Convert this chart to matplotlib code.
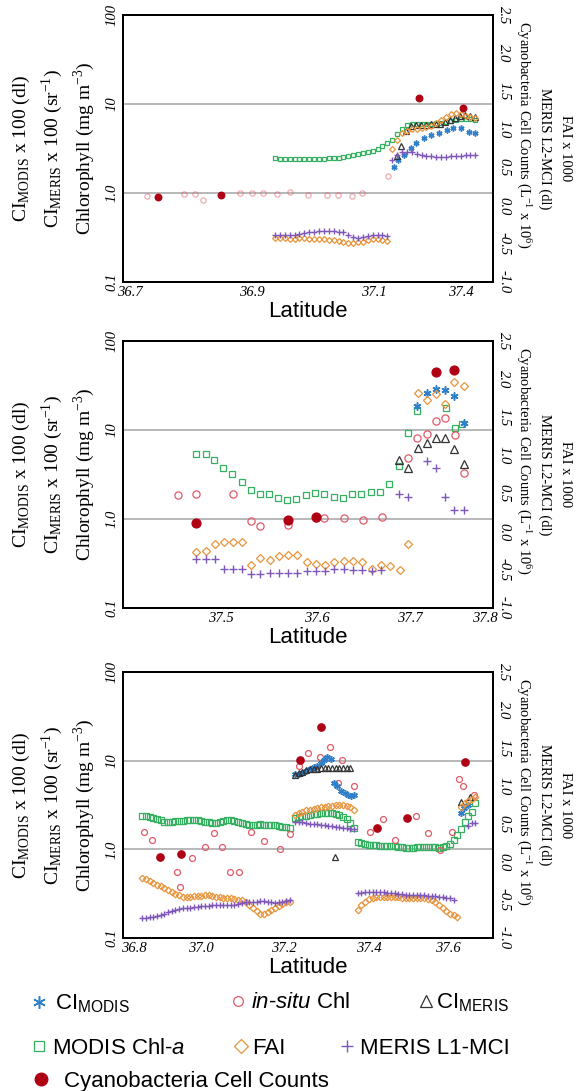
import numpy as np
import matplotlib
matplotlib.use('Agg')
import matplotlib.pyplot as plt
from matplotlib.lines import Line2D
from matplotlib.ticker import NullLocator

plt.rcParams['font.family'] = ['Liberation Sans', 'DejaVu Sans']
plt.rcParams['mathtext.fontset'] = 'custom'
plt.rcParams['mathtext.rm'] = 'Liberation Serif'
plt.rcParams['mathtext.sf'] = 'Liberation Sans'
plt.rcParams['mathtext.it'] = 'Liberation Sans:italic'

nan = np.nan

# ---------------- panel 1 ----------------
p1_lat = [36.938, 36.946, 36.954, 36.962, 36.970, 36.978, 36.986, 36.994, 37.002, 37.010,
          37.018, 37.026, 37.034, 37.042, 37.050, 37.058, 37.066, 37.074, 37.082, 37.090,
          37.098, 37.106, 37.114, 37.122, 37.130, 37.138, 37.146, 37.154, 37.162, 37.170,
          37.178, 37.186, 37.194, 37.202, 37.210, 37.218, 37.226, 37.234, 37.242, 37.250,
          37.258, 37.266]
p1_chla = [2.45, 2.42, 2.40, 2.40, 2.38, 2.38, 2.40, 2.40, 2.40, 2.42,
           2.42, 2.45, 2.47, 2.50, 2.55, 2.60, 2.65, 2.72, 2.80, 2.90,
           3.00, 3.15, 3.35, 3.60, 3.95, 4.60, 5.30, 5.80, 5.90, 5.90,
           5.95, 6.00, 6.00, 6.05, 6.10, 6.30, 6.50, 6.60, 6.70, 6.80,
           6.70, 6.60]
p1_fai = [-0.42, -0.42, -0.42, -0.43, -0.43, -0.42, -0.42, -0.43, -0.43, -0.44,
          -0.44, -0.45, -0.45, -0.46, -0.48, -0.49, -0.49, -0.48, -0.47, -0.45,
          -0.44, -0.44, -0.45, -0.46, 0.74, 0.86, 0.95, 0.98, 1.00, 1.01,
          1.02, 1.03, 1.05, 1.08, 1.12, 1.16, 1.20, 1.22, 1.20, 1.18,
          1.16, 1.15]
p1_mci = [-0.39, -0.39, -0.38, -0.38, -0.38, -0.37, -0.36, -0.35, -0.34, -0.33,
          -0.33, -0.33, -0.33, -0.34, -0.35, -0.38, -0.41, -0.42, -0.41, -0.40,
          -0.39, -0.38, -0.38, -0.40, 0.60, 0.66, 0.70, 0.71, 0.70, 0.68,
          0.66, 0.65, 0.65, 0.64, 0.64, 0.64, 0.65, 0.65, 0.65, 0.66,
          0.66, 0.66]
p1_insitu_lat = [36.728, 36.789, 36.807, 36.820, 36.881, 36.900, 36.919, 36.941, 36.963,
                 36.992, 37.023, 37.041, 37.064, 37.081, 37.123]
p1_insitu = [0.93, 0.97, 0.97, 0.84, 1.00, 1.00, 1.00, 0.98, 1.02, 0.95, 0.95, 0.95, 0.93, 1.00, 1.55]
p1_cyano_lat = [36.747, 36.850, 37.173, 37.246]
p1_cyano = [0.12, 0.14, 1.41, 1.28]
p1_cimodis_lat = [37.133, 37.140, 37.150, 37.161, 37.169, 37.182, 37.194, 37.207, 37.219,
                  37.230, 37.243, 37.255, 37.266]
p1_cimodis = [1.96, 2.35, 2.67, 3.20, 3.64, 4.15, 4.48, 4.72, 5.10, 5.37, 5.37, 4.85, 4.72]
p1_cimeris_lat = [37.137, 37.145, 37.153, 37.161, 37.169, 37.177, 37.185, 37.193, 37.201,
                  37.209, 37.217, 37.225, 37.233, 37.241, 37.249, 37.257, 37.265]
p1_cimeris = [2.6, 3.4, 5.0, 5.6, 5.8, 5.8, 5.8, 5.9, 5.9, 6.0, 6.2, 6.6, 7.0, 7.4, 7.5, 7.4, 7.2]

# ---------------- panel 2 ----------------
p2_chla_lat = [37.472, 37.483, 37.492, 37.502, 37.512, 37.523, 37.533, 37.543, 37.554, 37.564,
               37.574, 37.584, 37.595, 37.605, 37.615, 37.626, 37.636, 37.646, 37.656, 37.667,
               37.677, 37.687, 37.698, 37.708, 37.718, 37.751, 37.761, 37.769]
p2_chla = [5.33, 5.33, 4.56, 3.71, 3.18, 2.63, 2.10, 1.93, 1.89, 1.74,
           1.63, 1.66, 1.86, 1.98, 1.93, 1.77, 1.74, 1.89, 1.93, 2.03,
           2.03, 2.49, 3.94, 9.33, 16.3, 17.5, 10.5, 11.7]
p2_insitu_lat = [37.452, 37.472, 37.513, 37.533, 37.543, 37.575, 37.606, 37.615, 37.637,
                 37.658, 37.679, 37.708, 37.718, 37.730, 37.739, 37.749, 37.761, 37.771]
p2_insitu = [1.86, 1.89, 1.89, 0.95, 0.83, 0.86, 1.02, 1.02, 1.02, 0.97, 1.04, 4.88, 8.2, 9.1,
             12.6, 13.8, 8.9, 3.3]
p2_cyano_lat = [37.472, 37.575, 37.606, 37.740, 37.760]
p2_cyano = [0.11, 0.16, 0.19, 2.09, 2.12]
p2_fai_lat = [37.472, 37.483, 37.493, 37.503, 37.513, 37.524, 37.534, 37.544, 37.555, 37.565,
              37.575, 37.585, 37.596, 37.606, 37.616, 37.626, 37.637, 37.647, 37.657, 37.668,
              37.678, 37.688, 37.699, 37.708, 37.719, 37.730, 37.740, 37.750, 37.760, 37.771]
p2_fai = [-0.26, -0.25, -0.16, -0.13, -0.13, -0.14, -0.43, -0.35, -0.37, -0.32,
          -0.30, -0.31, -0.40, -0.42, -0.43, -0.40, -0.39, -0.38, -0.40, -0.49,
          -0.43, -0.45, -0.50, -0.16, 1.82, 1.73, 1.81, 1.68, 1.96, 1.91]
p2_mci_lat = [37.472, 37.483, 37.493, 37.503, 37.513, 37.524, 37.534, 37.544, 37.555, 37.565,
              37.575, 37.585, 37.596, 37.606, 37.616, 37.626, 37.637, 37.647, 37.657, 37.668,
              37.678, 37.698, 37.708, 37.730, 37.740, 37.750, 37.760, 37.771]
p2_mci = [-0.36, -0.36, -0.36, -0.49, -0.49, -0.49, -0.56, -0.56, -0.54, -0.54,
          -0.54, -0.54, -0.51, -0.51, -0.51, -0.49, -0.49, -0.50, -0.50, -0.51,
          -0.50, 0.49, 0.45, 0.93, 0.83, 0.46, 0.28, 0.28]
p2_cimodis_lat = [37.718, 37.730, 37.740, 37.750, 37.760, 37.771]
p2_cimodis = [18.6, 26.2, 28.6, 28.1, 24.1, 12.1]
p2_cimeris_lat = [37.698, 37.708, 37.719, 37.730, 37.740, 37.750, 37.760, 37.771]
p2_cimeris = [4.56, 3.77, 6.33, 7.2, 8.2, 8.2, 6.06, 4.12]

# ---------------- panel 3 ----------------
p3_lat = [36.854, 36.863, 36.872, 36.881, 36.890, 36.899, 36.908, 36.917, 36.926, 36.935,
          36.944, 36.953, 36.962, 36.971, 36.980, 36.989, 36.998, 37.007, 37.016, 37.025,
          37.034, 37.043, 37.052, 37.061, 37.070, 37.079, 37.088, 37.097, 37.106, 37.115,
          37.124, 37.133, 37.142, 37.151, 37.160, 37.169, 37.178, 37.187, 37.196, 37.205,
          37.214,
          37.227, 37.236, 37.245, 37.254, 37.263, 37.272, 37.281, 37.290, 37.299, 37.308,
          37.317, 37.326, 37.335, 37.344, 37.353, 37.362, 37.370,
          37.380, 37.389, 37.398, 37.407, 37.416, 37.425, 37.434, 37.443, 37.452, 37.461,
          37.470, 37.479, 37.488, 37.497, 37.506, 37.515, 37.524, 37.533, 37.542, 37.551,
          37.560, 37.569, 37.578, 37.587, 37.596, 37.605,
          37.614, 37.623, 37.632, 37.641, 37.650, 37.659, 37.666]
p3_chla = [2.38, 2.35, 2.30, 2.25, 2.20, 2.12, 2.05, 2.03, 2.05, 2.08,
           2.10, 2.10, 2.12, 2.14, 2.14, 2.12, 2.10, 2.06, 2.02, 1.98,
           2.00, 2.05, 2.10, 2.12, 2.14, 2.10, 2.02, 1.96, 1.92, 1.88,
           1.88, 1.90, 1.92, 1.90, 1.88, 1.88, 1.86, 1.83, 1.80, 1.77,
           1.74,
           2.25, 2.30, 2.35, 2.40, 2.44, 2.48, 2.52, 2.55, 2.57, 2.57,
           2.55, 2.50, 2.42, 2.32, 2.20, 1.98, 1.74,
           1.22, 1.18, 1.15, 1.13, 1.12, 1.12, 1.10, 1.10, 1.09, 1.08,
           1.08, 1.07, 1.05, 1.04, 1.03, 1.04, 1.05, 1.05, 1.06, 1.06,
           1.05, 1.05, 1.04, 1.06, 1.10, 1.16,
           1.28, 1.45, 1.70, 2.05, 2.40, 2.66, 3.30]
p3_fai = [-0.21, -0.23, -0.25, -0.28, -0.30, -0.32, -0.34, -0.37, -0.40, -0.42,
          -0.44, -0.46, -0.46, -0.46, -0.45, -0.45, -0.45, -0.44, -0.44, -0.45,
          -0.46, -0.46, -0.47, -0.48, -0.48, -0.49, -0.50, -0.50, -0.53, -0.57,
          -0.61, -0.65, -0.68, -0.68, -0.66, -0.63, -0.60, -0.58, -0.55, -0.53,
          -0.52,
          0.62, 0.64, 0.66, 0.68, 0.69, 0.70, 0.71, 0.72, 0.73, 0.74,
          0.74, 0.75, 0.75, 0.75, 0.74, 0.72, 0.68,
          -0.63, -0.57, -0.52, -0.49, -0.47, -0.46, -0.46, -0.46, -0.46, -0.46,
          -0.46, -0.46, -0.47, -0.47, -0.47, -0.48, -0.48, -0.48, -0.48, -0.49,
          -0.50, -0.53, -0.57, -0.60, -0.64, -0.68,
          -0.70, -0.72, 0.72, 0.77, 0.80, 0.83, 0.86]
p3_mci = [-0.74, -0.74, -0.73, -0.72, -0.71, -0.70, -0.68, -0.66, -0.64, -0.63,
          -0.62, -0.61, -0.60, -0.60, -0.59, -0.59, -0.58, -0.58, -0.58, -0.57,
          -0.57, -0.57, -0.57, -0.57, -0.57, -0.56, -0.55, -0.54, -0.53, -0.52,
          -0.52, -0.52, -0.51, -0.51, -0.52, -0.53, -0.54, -0.53, -0.52, -0.51,
          -0.50,
          0.53, 0.53, 0.52, 0.51, 0.50, 0.50, 0.50, 0.49, 0.49, 0.48,
          0.47, 0.46, 0.46, 0.45, 0.45, 0.44, 0.44,
          -0.41, -0.41, -0.40, -0.40, -0.40, -0.40, -0.40, -0.40, -0.41, -0.41,
          -0.41, -0.42, -0.42, -0.43, -0.43, -0.44, -0.44, -0.44, -0.44, -0.45,
          -0.45, -0.45, -0.46, -0.46, -0.47, -0.48,
          -0.50, nan, nan, nan, 0.48, 0.51, 0.51]
p3_insitu_lat = [36.858, 36.878, 36.939, 36.947, 36.976, 37.008, 37.029, 37.049, 37.069, 37.090,
                 37.120, 37.150, 37.191, 37.215, 37.236, 37.259, 37.288, 37.312, 37.341, 37.332,
                 37.371, 37.410, 37.441, 37.471, 37.522, 37.552, 37.580, 37.609, 37.627, 37.636,
                 37.663]
p3_insitu = [1.58, 1.27, 0.55, 0.38, 0.79, 1.07, 1.54, 1.07, 0.55, 0.55,
             1.58, 1.24, 1.00, 1.50, 8.6, 12.1, 11.0, 14.4, 10.2, 5.55,
             5.18, 1.56, 2.2, 1.27, 2.38, 1.54, 0.98, 1.58, 6.17, 5.18,
             4.1]
p3_cyano_lat = [36.898, 36.949, 37.239, 37.290, 37.428, 37.499, 37.642]
p3_cyano = [0.06, 0.11, 1.34, 1.78, 0.45, 0.58, 1.31]
p3_cimodis_lat = [37.227, 37.236, 37.245, 37.254, 37.263, 37.272, 37.281, 37.290, 37.298, 37.306,
                  37.314, 37.322, 37.330, 37.340, 37.348, 37.356, 37.364, 37.370, 37.631, 37.640,
                  37.649]
p3_cimodis = [7.0, 7.1, 7.3, 7.6, 8.0, 8.4, 8.8, 9.3, 10.2, 11.0,
              10.5, 5.6, 5.2, 4.6, 4.3, 4.1, 4.0, 4.1, 2.55, 2.9,
              3.16]
p3_cimeris_lat = [37.227, 37.236, 37.245, 37.254, 37.263, 37.272, 37.281, 37.290, 37.299, 37.308,
                  37.317, 37.324, 37.326, 37.335, 37.344, 37.353, 37.362, 37.631, 37.653]
p3_cimeris = [6.9, 7.2, 7.5, 7.8, 8.0, 8.1, 8.1, 8.2, 8.2, 8.2,
              8.2, 0.83, 8.2, 8.2, 8.3, 8.2, 8.2, 3.45, 3.9]

# axis limits and tick labels (tick spacing in the original is uneven)
p1_xlim = (36.689, 37.295)
p1_xticks = [36.7, 36.9, 37.1, 37.242]
p1_xlabels = ['36.7', '36.9', '37.1', '37.4']
p2_xlim = (37.391, 37.803)
p2_xticks = [37.5, 37.607, 37.71, 37.794]
p2_xlabels = ['37.5', '37.6', '37.7', '37.8']
p3_xlim = (36.807, 37.71)
p3_xticks = [36.834, 36.998, 37.2, 37.407, 37.6]
p3_xlabels = ['36.8', '37.0', '37.2', '37.4', '37.6']

left_ticks = [0.1, 1, 10, 100]
left_labels = ['0.1', '1.0', '10', '100']
right_ticks = [-1.0, -0.5, 0.0, 0.5, 1.0, 1.5, 2.0, 2.5]
right_labels = ['-1.0', '-0.5', '0.0', '0.5', '1.0', '1.5', '2.0', '2.5']

# marker styles
STY = {
    'cimodis': dict(ls='none', marker=(6, 2, 0), color='#2f80c8', mew=1.1),
    'insitu': dict(ls='none', marker='o', mfc='none', mec='#e05a68', mew=0.9),
    'cimeris': dict(ls='none', marker='^', mfc='none', mec='#333333', mew=0.9),
    'chla': dict(ls='none', marker='s', mfc='none', mec='#35b060', mew=0.9),
    'fai': dict(ls='none', marker='D', mfc='none', mec='#e8943c', mew=0.9),
    'mci': dict(ls='none', marker='+', color='#7e57b8', mew=1.0),
    'cyano': dict(ls='none', marker='o', color='#b00014', mec='#b00014'),
}
SIZE = {'cimodis': 5, 'insitu': 4.5, 'cimeris': 4.5, 'chla': 4, 'fai': 3.5, 'mci': 5, 'cyano': 5.5}

panels = [
    dict(rect=[123/579, 1-282/1091, 370/579, 267/1091], scale=0.85, insitu_alpha=0.5,
         xlim=p1_xlim, xticks=p1_xticks, xlabels=p1_xlabels,
         left=[('chla', p1_lat, p1_chla), ('insitu', p1_insitu_lat, p1_insitu),
               ('cimodis', p1_cimodis_lat, p1_cimodis), ('cimeris', p1_cimeris_lat, p1_cimeris)],
         right=[('fai', p1_lat, p1_fai), ('mci', p1_lat, p1_mci), ('cyano', p1_cyano_lat, p1_cyano)]),
    dict(rect=[123/579, 1-608/1091, 370/579, 267/1091], scale=1.15, insitu_alpha=1.0,
         xlim=p2_xlim, xticks=p2_xticks, xlabels=p2_xlabels,
         left=[('chla', p2_chla_lat, p2_chla), ('insitu', p2_insitu_lat, p2_insitu),
               ('cimodis', p2_cimodis_lat, p2_cimodis), ('cimeris', p2_cimeris_lat, p2_cimeris)],
         right=[('fai', p2_fai_lat, p2_fai), ('mci', p2_mci_lat, p2_mci), ('cyano', p2_cyano_lat, p2_cyano)]),
    dict(rect=[123/579, 1-938/1091, 370/579, 266/1091], scale=0.95, insitu_alpha=1.0,
         xlim=p3_xlim, xticks=p3_xticks, xlabels=p3_xlabels,
         left=[('chla', p3_lat, p3_chla), ('insitu', p3_insitu_lat, p3_insitu),
               ('cimodis', p3_cimodis_lat, p3_cimodis), ('cimeris', p3_cimeris_lat, p3_cimeris)],
         right=[('fai', p3_lat, p3_fai), ('mci', p3_lat, p3_mci), ('cyano', p3_cyano_lat, p3_cyano)]),
]

serif = ['Liberation Serif', 'DejaVu Serif']
tickfont = dict(family=serif, style='italic', fontsize=10.5)

fig = plt.figure(figsize=(5.79, 10.91), dpi=100)

for p in panels:
    ax = fig.add_axes(p['rect'])
    ax.set_yscale('log')
    ax.set_ylim(0.1, 100)
    ax.set_xlim(*p['xlim'])
    ax2 = ax.twinx()
    ax2.set_ylim(-1.0, 2.5)

    for key, x, y in p['left']:
        alpha = p['insitu_alpha'] if key == 'insitu' else 1.0
        ax.plot(x, y, ms=SIZE[key]*p['scale'], alpha=alpha, **STY[key])
    for key, x, y in p['right']:
        z = 5 if key == 'cyano' else 3
        ax2.plot(x, y, ms=SIZE[key]*p['scale'], zorder=z, **STY[key])

    ax.grid(axis='y', which='major', color='#b8b8b8', lw=1.4)
    ax.set_axisbelow(True)
    ax.yaxis.set_minor_locator(NullLocator())
    ax.set_yticks(left_ticks, left_labels, rotation=90, va='center', **tickfont)
    ax.set_xticks(p['xticks'], p['xlabels'], **tickfont)
    ax2.set_yticks(right_ticks, right_labels, rotation=270, va='center', **tickfont)
    ax.tick_params(length=0, pad=3)
    ax2.tick_params(length=0, pad=3)
    for a in (ax, ax2):
        for sp in a.spines.values():
            sp.set_linewidth(1.4)
    ax.set_xlabel('Latitude', fontsize=16, labelpad=1)

    ax.text(-0.275, 0.5, r'CI$_{\mathrm{MODIS}}$ x 100 (dl)', transform=ax.transAxes,
            rotation=90, ha='center', va='center', fontsize=14, family=serif)
    ax.text(-0.19, 0.5, r'CI$_{\mathrm{MERIS}}$ x 100 (sr$^{-1}$)', transform=ax.transAxes,
            rotation=90, ha='center', va='center', fontsize=14, family=serif)
    ax.text(-0.103, 0.5, r'Chlorophyll (mg m$^{-3}$)', transform=ax.transAxes,
            rotation=90, ha='center', va='center', fontsize=14, family=serif)
    ax.text(1.086, 0.55, r'Cyanobacteria Cell Counts (L$^{-1}$ x 10$^{6}$)', transform=ax.transAxes,
            rotation=270, ha='center', va='center', fontsize=10.5, family=serif)
    ax.text(1.141, 0.5, 'MERIS L2-MCI (dl)', transform=ax.transAxes,
            rotation=270, ha='center', va='center', fontsize=10.5, family=serif)
    ax.text(1.195, 0.5, 'FAI x 1000', transform=ax.transAxes,
            rotation=270, ha='center', va='center', fontsize=10.5, family=serif)

# legend, one entry at a time to follow the original layout
leg_items = [
    ('cimodis', r'CI$_{\mathsf{MODIS}}$', 38.7, 1004, 16, 9),
    ('insitu', r'$\mathit{in}$-$\mathit{situ}$ Chl', 237.7, 1003, 13, 7),
    ('cimeris', r'CI$_{\mathsf{MERIS}}$', 426, 1003, 10, 8),
    ('chla', r'MODIS Chl-$\mathit{a}$', 38.7, 1048, 13, 7),
    ('fai', 'FAI', 241.4, 1048, 11, 7),
    ('mci', 'MERIS L1-MCI', 346.5, 1048, 13, 9),
    ('cyano', 'Cyanobacteria Cell Counts', 40.5, 1081, 24, 9),
]
em = 16 * 100 / 72.0
for key, lab, mx, my, gap, ms in leg_items:
    h = Line2D([], [], ms=ms, **STY[key])
    hl = 0.7
    fig.legend(handles=[h], labels=[lab], loc='center left',
               bbox_to_anchor=((mx - hl*em/2)/579, 1 - my/1091),
               frameon=False, fontsize=16, handlelength=hl,
               handletextpad=(gap - hl*em/2)/em, borderpad=0, borderaxespad=0)

fig.savefig('out.png', dpi=100)
